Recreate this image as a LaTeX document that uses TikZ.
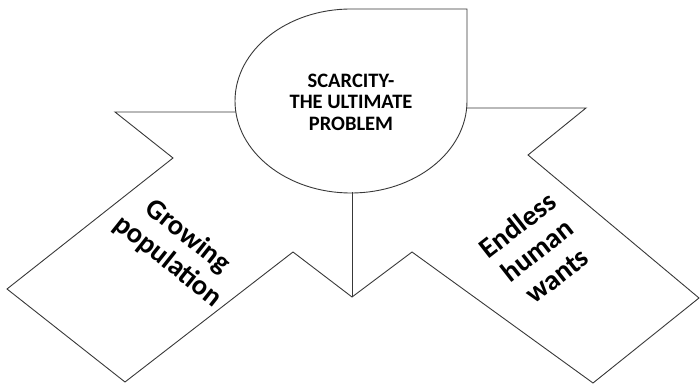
\documentclass[tikz,border=0pt]{standalone}
\usepackage{fontspec}
\setmainfont{Carlito}
\begin{document}
\begin{tikzpicture}[x=1pt,y=1pt,
  outline/.style={draw=black!78,line width=0.9pt,line join=miter},
  centertext/.style={font=\bfseries\fontsize{20.5}{21.5}\selectfont,align=center,text=black},
  sidetext/.style={font=\bfseries\fontsize{28.5}{32}\selectfont,align=center,text=black}]
\useasboundingbox (0,0) rectangle (700,385);
% teardrop
\draw[outline,fill=white] (351,376) -- (467,376) -- (467,284)
  arc[start angle=0,end angle=-270,x radius=116,y radius=92] -- cycle;
\node[centertext] (scarcity) at (351,283) {SCARCITY-\\THE ULTIMATE\\PROBLEM};
% arrows outline
\coordinate (lstart) at (236,273);
\coordinate (rstart) at (467,277);
\coordinate (bottom) at (352,88);
\coordinate (cbottom) at (352,193);
\draw[outline] (lstart) -- (115,273) -- (173,227) -- (7,96) -- (125,3) -- (293,133)
  -- (bottom) -- (412,133) -- (593,2) -- (699,87) -- (528,230) -- (586,277) -- (rstart);
\draw[outline] (bottom) -- (cbottom);
\node[sidetext,rotate=-38.5] (growing) at (178,136) {Growing\\population};
\node[sidetext,rotate=38] (endless) at (537,135) {Endless\\human\\wants};
\end{tikzpicture}
\end{document}
